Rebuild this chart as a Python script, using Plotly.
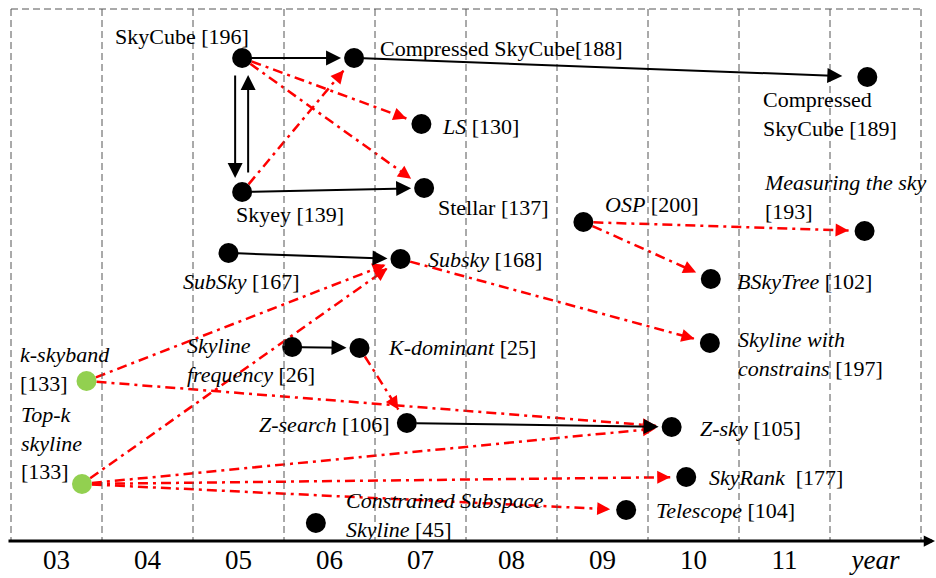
import math
import plotly.graph_objects as go

# ---------------- data ----------------
# nodes: id, year position (2003 -> 3), vertical level (0 = top of diagram)
node_ids = ["SkyCube", "Comp188", "Comp189", "LS", "Skyey", "Stellar", "OSP",
            "Measuring", "SubSky167", "Subsky168", "BSkyTree", "KSkyband",
            "SkyFreq", "KDom", "SkyConstr", "TopK", "ZSearch", "ZSky",
            "SkyRank", "Telescope", "CSS"]
node_year = [5.04, 6.27, 11.91, 7.01, 5.04, 7.04, 8.79,
             11.88, 4.89, 6.78, 10.19, 3.33,
             5.59, 6.33, 10.18, 3.28, 6.85, 9.76,
             9.92, 9.26, 5.85]
node_level = [58, 58, 77, 124, 192, 188, 222,
              231, 253, 259, 279, 381,
              347, 348, 343, 484, 423, 427,
              477, 510, 523]
node_group = ["paper"] * 11 + ["seed"] + ["paper"] * 3 + ["seed"] + ["paper"] * 5
node_label = [
    "SkyCube [196]",
    "Compressed SkyCube[188]",
    "Compressed<br>SkyCube [189]",
    "<i>LS</i> [130]",
    "Skyey [139]",
    "Stellar [137]",
    "<i>OSP</i> [200]",
    "<i>Measuring the sky</i><br>[193]",
    "<i>SubSky</i> [167]",
    "<i>Subsky</i> [168]",
    "<i>BSkyTree</i> [102]",
    "<i>k-skyband</i><br>[133]",
    "<i>Skyline</i><br><i>frequency</i> [26]",
    "<i>K-dominant</i> [25]",
    "<i>Skyline with</i><br><i>constrains</i> [197]",
    "<i>Top-k</i><br><i>skyline</i><br>[133]",
    "<i>Z-search</i> [106]",
    "<i>Z-sky</i> [105]",
    "<i>SkyRank</i>  [177]",
    "<i>Telescope</i> [104]",
    "<i>Constrained Subspace</i><br><i>Skyline</i> [45]",
]

# relations
solid_edges = [("SkyCube", "Comp188"), ("Comp188", "Comp189"),
               ("SkyCube", "Skyey"), ("Skyey", "SkyCube"),
               ("Skyey", "Stellar"), ("SubSky167", "Subsky168"),
               ("SkyFreq", "KDom"), ("ZSearch", "ZSky")]
dashed_edges = [("SkyCube", "LS"), ("SkyCube", "Stellar"), ("Skyey", "Comp188"),
                ("OSP", "Measuring"), ("OSP", "BSkyTree"),
                ("Subsky168", "SkyConstr"), ("KSkyband", "Subsky168"),
                ("KSkyband", "ZSky"), ("TopK", "Subsky168"), ("TopK", "ZSky"),
                ("TopK", "SkyRank"), ("TopK", "Telescope"), ("KDom", "ZSearch")]

year_ticks = [3, 4, 5, 6, 7, 8, 9, 10, 11, 12]
year_ticktext = ["03", "04", "05", "06", "07", "08", "09", "10", "11", "<i>year</i>"]

# ---------------- layout / style ----------------
W, H = 936, 578
MB = 37
X0, X1 = 3 - 56.5 / 91, 3 + (W - 56.5) / 91
YTOP, YBOT = 0, 541
KX = W / (X1 - X0)
KY = (H - MB) / (YBOT - YTOP)
FONT = "Liberation Serif"
RED = "#FF0000"
GRID = "#555555"

# label offsets in px: (dx to left edge of text, dy of text centre, +down)
label_off = {
    "SkyCube": (-129, -22), "Comp188": (24, -10), "Comp189": (-106, 37),
    "LS": (19, 2), "Skyey": (-8, 22), "Stellar": (12, 19), "OSP": (20, -18),
    "Measuring": (-103, -34), "SubSky167": (-47, 28), "Subsky168": (26, 0),
    "BSkyTree": (24, 2), "KSkyband": (-69, -12), "SkyFreq": (-107, 13),
    "KDom": (26, -1), "SkyConstr": (26, 11), "TopK": (-63, -41),
    "ZSearch": (-150, 1), "ZSky": (26, 1), "SkyRank": (21, 0),
    "Telescope": (28, 0), "CSS": (28, -8),
}
# lateral offsets (px) for the paired vertical arrows
lateral = {("SkyCube", "Skyey"): 7, ("Skyey", "SkyCube"): 6}
solid_stand = {("Comp188", "Comp189"): 25, ("SkyCube", "Skyey"): 14, ("Skyey", "SkyCube"): 17}
solid_start = {("SkyCube", "Skyey"): 17, ("Skyey", "SkyCube"): 19}

pos = {n: (x, y) for n, x, y in zip(node_ids, node_year, node_level)}


def to_px(x, y):
    return (x - X0) * KX, (y - YTOP) * KY


def to_data(px, py):
    return X0 + px / KX, YTOP + py / KY


def trimmed(a, b, s0, s1, lat=0.0):
    ax_, ay_ = to_px(*pos[a])
    bx_, by_ = to_px(*pos[b])
    dx, dy = bx_ - ax_, by_ - ay_
    L = math.hypot(dx, dy)
    ux, uy = dx / L, dy / L
    nx, ny = -uy, ux
    ax_ += nx * lat
    ay_ += ny * lat
    bx_ += nx * lat
    by_ += ny * lat
    p0 = to_data(ax_ + ux * s0, ay_ + uy * s0)
    p1 = to_data(bx_ - ux * s1, by_ - uy * s1)
    return p0, p1, (ux, uy)


fig = go.Figure()
annotations = []
shapes = []

# dashed frame / year columns
for i in range(len(year_ticks) + 1):
    xb = year_ticks[0] - 0.5 + i
    shapes.append(dict(type="line", xref="x", yref="y", x0=xb, x1=xb, y0=9, y1=YBOT,
                       line=dict(color=GRID, width=1, dash="7px,4px")))
shapes.append(dict(type="line", xref="x", yref="y", x0=year_ticks[0] - 0.5,
                   x1=year_ticks[-1] + 0.5, y0=9, y1=9,
                   line=dict(color=GRID, width=1, dash="7px,4px")))

# red dash-dot relations
rx, ry = [], []
for a, b in dashed_edges:
    p0, p1, (ux, uy) = trimmed(a, b, 10, 16)
    rx += [p0[0], p1[0], None]
    ry += [p0[1], p1[1], None]
    tx, ty = to_px(*p1)
    back = to_data(tx - ux * 9, ty - uy * 9)
    annotations.append(dict(x=p1[0], y=p1[1], ax=back[0], ay=back[1],
                            xref="x", yref="y", axref="x", ayref="y", text="",
                            font=dict(size=1), borderpad=0,
                            showarrow=True, arrowhead=2, arrowsize=1.3,
                            arrowwidth=2, arrowcolor=RED, standoff=0))
fig.add_trace(go.Scatter(x=rx, y=ry, mode="lines", hoverinfo="skip",
                         line=dict(color=RED, width=2.5, dash="10px,5px,3px,5px")))

# black solid relations
for e in solid_edges:
    a, b = e
    p0, p1, _ = trimmed(a, b, solid_start.get(e, 9), solid_stand.get(e, 13), lateral.get(e, 0))
    annotations.append(dict(x=p1[0], y=p1[1], ax=p0[0], ay=p0[1],
                            xref="x", yref="y", axref="x", ayref="y", text="",
                            font=dict(size=1), borderpad=0,
                            showarrow=True, arrowhead=2, arrowsize=1.5,
                            arrowwidth=2, arrowcolor="black", standoff=0))

# nodes
colors = ["#92D050" if g == "seed" else "black" for g in node_group]
fig.add_trace(go.Scatter(x=node_year, y=node_level, mode="markers", hoverinfo="skip",
                         marker=dict(size=20, color=colors, line=dict(width=0))))

# labels
for n, txt in zip(node_ids, node_label):
    dx, dy = label_off[n]
    x, y = pos[n]
    annotations.append(dict(x=x, y=y, xref="x", yref="y", text=txt, showarrow=False,
                            xanchor="left", yanchor="middle", align="left",
                            xshift=dx, yshift=-dy,
                            font=dict(family=FONT, size=22, color="black")))

# time axis with arrow
axs = to_data(8, 0)[0]
axe = to_data(935, 0)[0]
annotations.append(dict(x=axe, y=YBOT, ax=axs, ay=YBOT, xref="x", yref="y",
                        axref="x", ayref="y", text="", font=dict(size=1), borderpad=0,
                        showarrow=True, arrowhead=2, arrowsize=0.75, arrowwidth=3,
                        arrowcolor="black", standoff=0))

fig.update_layout(
    width=W, height=H, margin=dict(l=0, r=0, t=0, b=MB),
    paper_bgcolor="white", plot_bgcolor="white", showlegend=False,
    shapes=shapes, annotations=annotations,
    xaxis=dict(range=[X0, X1], showgrid=False, zeroline=False, showline=False,
               tickvals=year_ticks, ticktext=year_ticktext, ticks="",
               tickfont=dict(family=FONT, size=27, color="black"), fixedrange=True),
    yaxis=dict(range=[YBOT, YTOP], visible=False, fixedrange=True),
)

fig.write_html("out.html", config={"displayModeBar": False},
               post_script="document.body.style.margin='0';")
